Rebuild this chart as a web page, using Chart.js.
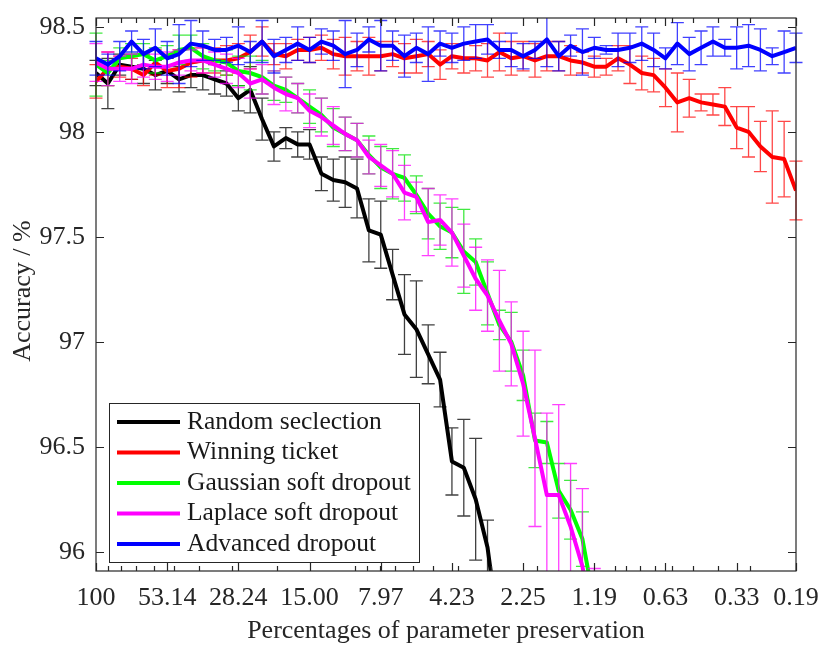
<!DOCTYPE html>
<html><head><meta charset="utf-8">
<script src="https://cdn.jsdelivr.net/npm/chart.js@4.4.1/dist/chart.umd.min.js"></script>
<style>html,body{margin:0;padding:0;background:#fff}canvas{display:block}</style>
</head><body>
<canvas id="c" width="830" height="654"></canvas>
<script>
// Percentage of preserved parameters (x categories, log axis, reversed)
const preservation = [100, 90, 81, 72.9, 65.61, 59.049, 53.144, 47.830, 43.047, 38.742,
  34.868, 31.381, 28.243, 25.419, 22.877, 20.589, 18.530, 16.677, 15.009, 13.509,
  12.158, 10.942, 9.8477, 8.8629, 7.9766, 7.1790, 6.4611, 5.8150, 5.2335, 4.7101,
  4.2391, 3.8152, 3.4337, 3.0903, 2.7813, 2.5032, 2.2528, 2.0276, 1.8248, 1.6423,
  1.4781, 1.3303, 1.1973, 1.0775, 0.96977, 0.87280, 0.78552, 0.70697, 0.63627, 0.57264,
  0.51538, 0.46384, 0.41746, 0.37571, 0.33814, 0.30433, 0.27389, 0.24650, 0.22185, 0.19967];

const xTickValues = [100, 53.144, 28.243, 15.009, 7.9766, 4.2391, 2.2528, 1.1973, 0.63627, 0.33814, 0.19967];
const xTickLabels = ["100", "53.14", "28.24", "15.00", "7.97", "4.23", "2.25", "1.19", "0.63", "0.33", "0.19"];
const xMinorTicks = [90, 80, 70, 60, 50, 40, 30, 20, 10, 9, 8, 7, 6, 5, 4, 3, 2, 1, 0.9, 0.8, 0.7, 0.6, 0.5, 0.4, 0.3];
const yTicks = [96, 96.5, 97, 97.5, 98, 98.5];

const seriesNames = ["Random seclection", "Winning ticket", "Gaussian soft dropout", "Laplace soft dropout", "Advanced dropout"];
const lineColors = ["#000000", "#ff0000", "#00ff00", "#ff00ff", "#0000ff"];
const errColors = ["rgba(0,0,0,0.75)", "rgba(255,0,0,0.72)", "rgba(0,225,0,0.75)", "rgba(255,0,255,0.75)", "rgba(0,0,255,0.75)"];

const randomSel = [98.28, 98.23, 98.32, 98.31, 98.30, 98.27, 98.29, 98.25, 98.27, 98.27,
  98.25, 98.23, 98.16, 98.20, 98.06, 97.93, 97.97, 97.94, 97.94, 97.80,
  97.77, 97.76, 97.73, 97.53, 97.51, 97.32, 97.13, 97.06, 96.94, 96.82,
  96.43, 96.40, 96.25, 96.02, 95.60];
const randomSelErr = [0.06, 0.12, 0.05, 0.06, 0.07, 0.07, 0.06, 0.06, 0.06, 0.07,
  0.07, 0.06, 0.06, 0.11, 0.10, 0.07, 0.05, 0.06, 0.07, 0.08,
  0.10, 0.12, 0.14, 0.15, 0.16, 0.12, 0.19, 0.23, 0.14, 0.13,
  0.16, 0.23, 0.29, 0.13, 0.15];

const winning = [98.24, 98.30, 98.31, 98.30, 98.27, 98.33, 98.29, 98.30, 98.33, 98.34,
  98.34, 98.34, 98.35, 98.38, 98.43, 98.37, 98.36, 98.39, 98.39, 98.40,
  98.37, 98.36, 98.36, 98.36, 98.36, 98.37, 98.35, 98.36, 98.37, 98.32,
  98.36, 98.35, 98.35, 98.34, 98.38, 98.35, 98.36, 98.34, 98.36, 98.36,
  98.34, 98.33, 98.31, 98.31, 98.35, 98.32, 98.28, 98.27, 98.21, 98.14,
  98.16, 98.14, 98.13, 98.12, 98.02, 98.00, 97.93, 97.88, 97.87, 97.72];
const winningErr = [0.08, 0.08, 0.05, 0.05, 0.05, 0.06, 0.08, 0.09, 0.07, 0.06,
  0.06, 0.07, 0.07, 0.08, 0.07, 0.05, 0.06, 0.05, 0.06, 0.06,
  0.07, 0.09, 0.07, 0.09, 0.07, 0.06, 0.07, 0.08, 0.06, 0.07,
  0.06, 0.07, 0.06, 0.08, 0.09, 0.08, 0.07, 0.08, 0.07, 0.07,
  0.07, 0.05, 0.05, 0.04, 0.06, 0.09, 0.08, 0.08, 0.09, 0.14,
  0.09, 0.04, 0.05, 0.09, 0.10, 0.12, 0.12, 0.22, 0.18, 0.14];

const gaussian = [98.32, 98.28, 98.35, 98.36, 98.37, 98.34, 98.36, 98.39, 98.40, 98.36,
  98.34, 98.33, 98.29, 98.28, 98.26, 98.22, 98.20, 98.16, 98.12, 98.08,
  98.02, 97.99, 97.96, 97.89, 97.83, 97.80, 97.78, 97.70, 97.61, 97.55,
  97.52, 97.43, 97.38, 97.23, 97.08, 97.00, 96.84, 96.53, 96.52, 96.29,
  96.20, 96.06, 95.75];
const gaussianErr = [0.15, 0.06, 0.05, 0.06, 0.05, 0.06, 0.05, 0.07, 0.06, 0.06,
  0.05, 0.06, 0.07, 0.08, 0.08, 0.07, 0.06, 0.07, 0.08, 0.08,
  0.09, 0.08, 0.08, 0.09, 0.10, 0.12, 0.11, 0.09, 0.12, 0.11,
  0.12, 0.20, 0.11, 0.15, 0.07, 0.14, 0.12, 0.13, 0.10, 0.13,
  0.14, 0.13, 0.12];

const laplace = [98.33, 98.30, 98.30, 98.30, 98.32, 98.31, 98.31, 98.33, 98.34, 98.34,
  98.32, 98.30, 98.28, 98.23, 98.25, 98.21, 98.18, 98.16, 98.10, 98.07,
  98.03, 97.99, 97.96, 97.88, 97.84, 97.80, 97.71, 97.69, 97.57, 97.58,
  97.52, 97.41, 97.30, 97.22, 97.10, 96.99, 96.80, 96.54, 96.27, 96.27,
  96.12, 95.93, 95.60];
const laplaceErr = [0.09, 0.08, 0.06, 0.07, 0.06, 0.06, 0.07, 0.06, 0.05, 0.06,
  0.06, 0.07, 0.07, 0.07, 0.07, 0.08, 0.08, 0.07, 0.08, 0.09,
  0.09, 0.08, 0.08, 0.08, 0.10, 0.11, 0.13, 0.07, 0.16, 0.12,
  0.16, 0.15, 0.15, 0.17, 0.24, 0.20, 0.25, 0.42, 0.39, 0.43,
  0.30, 0.37, 0.32];

const advanced = [98.35, 98.32, 98.36, 98.43, 98.37, 98.40, 98.35, 98.37, 98.42, 98.41,
  98.39, 98.39, 98.41, 98.38, 98.43, 98.36, 98.39, 98.42, 98.39, 98.43,
  98.41, 98.37, 98.39, 98.44, 98.41, 98.41, 98.36, 98.40, 98.37, 98.42,
  98.40, 98.42, 98.43, 98.44, 98.39, 98.39, 98.36, 98.39, 98.44, 98.36,
  98.41, 98.38, 98.40, 98.39, 98.39, 98.40, 98.42, 98.39, 98.35, 98.42,
  98.37, 98.40, 98.43, 98.40, 98.40, 98.41, 98.39, 98.36, 98.38, 98.40];
const advancedErr = [0.08, 0.05, 0.07, 0.05, 0.07, 0.09, 0.08, 0.14, 0.11, 0.07,
  0.05, 0.06, 0.09, 0.05, 0.10, 0.08, 0.06, 0.08, 0.06, 0.06,
  0.07, 0.16, 0.08, 0.06, 0.12, 0.07, 0.10, 0.07, 0.13, 0.06,
  0.07, 0.08, 0.08, 0.07, 0.04, 0.08, 0.06, 0.04, 0.13, 0.07,
  0.05, 0.11, 0.05, 0.02, 0.08, 0.07, 0.08, 0.08, 0.05, 0.10,
  0.08, 0.08, 0.07, 0.04, 0.10, 0.10, 0.10, 0.04, 0.10, 0.07];

const seriesValues = [randomSel, winning, gaussian, laplace, advanced];
const seriesErrors = [randomSelErr, winningErr, gaussianErr, laplaceErr, advancedErr];

const FONT = '"Liberation Serif", "Times New Roman", serif';
const TEXT = '#262626';

const errorBarPlugin = {
  id: 'errorBars',
  beforeDatasetDraw(chart, args) {
    const i = args.index;
    const errs = seriesErrors[i];
    const vals = seriesValues[i];
    const ys = chart.scales.y;
    const ca = chart.chartArea;
    const ctx = chart.ctx;
    ctx.save();
    ctx.beginPath();
    ctx.rect(ca.left - 12, ca.top, ca.right - ca.left + 24, ca.bottom - ca.top);
    ctx.clip();
    ctx.strokeStyle = errColors[i];
    ctx.lineWidth = 1.3;
    ctx.beginPath();
    args.meta.data.forEach((pt, k) => {
      const v = vals[k], e = errs[k];
      if (v == null || e == null) return;
      const x = pt.x;
      const y1 = ys.getPixelForValue(v + e);
      const y2 = ys.getPixelForValue(v - e);
      ctx.moveTo(x, y1); ctx.lineTo(x, y2);
      ctx.moveTo(x - 6.5, y1); ctx.lineTo(x + 6.5, y1);
      ctx.moveTo(x - 6.5, y2); ctx.lineTo(x + 6.5, y2);
    });
    ctx.stroke();
    ctx.restore();
  }
};

const framePlugin = {
  id: 'frame',
  afterDraw(chart) {
    const { ctx, chartArea: ca, scales: { x, y } } = chart;
    ctx.save();
    ctx.strokeStyle = TEXT;
    ctx.lineWidth = 1.2;
    ctx.strokeRect(ca.left, ca.top, ca.right - ca.left, ca.bottom - ca.top);
    ctx.beginPath();
    xTickValues.forEach(v => {
      const px = Math.round(x.getPixelForValue(v)) + 0.5;
      ctx.moveTo(px, ca.bottom); ctx.lineTo(px, ca.bottom - 8);
      ctx.moveTo(px, ca.top); ctx.lineTo(px, ca.top + 8);
    });
    xMinorTicks.forEach(v => {
      const px = Math.round(x.getPixelForValue(v)) + 0.5;
      ctx.moveTo(px, ca.bottom); ctx.lineTo(px, ca.bottom - 5);
      ctx.moveTo(px, ca.top); ctx.lineTo(px, ca.top + 5);
    });
    yTicks.forEach(v => {
      const py = Math.round(y.getPixelForValue(v)) + 0.5;
      ctx.moveTo(ca.left, py); ctx.lineTo(ca.left + 8, py);
      ctx.moveTo(ca.right, py); ctx.lineTo(ca.right - 8, py);
    });
    ctx.stroke();

    // axis titles
    ctx.fillStyle = TEXT;
    ctx.font = '26px ' + FONT;
    ctx.textAlign = 'center';
    ctx.textBaseline = 'alphabetic';
    ctx.fillText('Percentages of parameter preservation', (ca.left + ca.right) / 2, 638);
    ctx.save();
    ctx.translate(30, 291);
    ctx.rotate(-Math.PI / 2);
    ctx.fillText('Accuracy / %', 0, 0);
    ctx.restore();

    // legend
    const lx = ca.left + 13, ly = ca.bottom - 168, lw = 310, lh = 159;
    ctx.fillStyle = '#ffffff';
    ctx.fillRect(lx, ly, lw, lh);
    ctx.lineWidth = 1;
    ctx.strokeStyle = TEXT;
    ctx.strokeRect(lx + 0.5, ly + 0.5, lw, lh);
    ctx.font = '25.5px ' + FONT;
    ctx.textAlign = 'left';
    ctx.textBaseline = 'middle';
    seriesNames.forEach((name, k) => {
      const ry = ly + 19 + k * 30.5;
      ctx.strokeStyle = lineColors[k];
      ctx.lineWidth = 4;
      ctx.beginPath();
      ctx.moveTo(lx + 8, ry); ctx.lineTo(lx + 71, ry);
      ctx.stroke();
      ctx.fillStyle = '#1a1a1a';
      ctx.fillText(name, lx + 78, ry);
    });
    ctx.restore();
  }
};

const datasets = seriesValues.map((vals, k) => ({
  label: seriesNames[k],
  data: vals.map((v, i) => ({ x: preservation[i], y: v })),
  borderColor: lineColors[k],
  backgroundColor: lineColors[k],
  borderWidth: 4,
  pointRadius: 0,
  tension: 0,
  fill: false,
  clip: 0,
  borderJoinStyle: 'round',
  order: 5 - k
}));

new Chart(document.getElementById('c'), {
  type: 'line',
  data: { datasets },
  options: {
    responsive: false,
    animation: false,
    devicePixelRatio: 1,
    layout: { padding: { left: 0, right: 34, top: 18, bottom: 0 } },
    plugins: { legend: { display: false }, tooltip: { enabled: false } },
    scales: {
      x: {
        type: 'logarithmic',
        reverse: true,
        min: preservation[preservation.length - 1],
        max: preservation[0],
        grid: { display: false, drawTicks: false },
        border: { display: false },
        afterBuildTicks: s => { s.ticks = xTickValues.map(v => ({ value: v })); },
        afterFit: s => { s.height = 83; s.paddingLeft = 0; s.paddingRight = 0; },
        ticks: {
          autoSkip: false, maxRotation: 0, minRotation: 0, padding: 12,
          color: TEXT, font: { family: FONT, size: 26 },
          callback: v => { const k = xTickValues.indexOf(v); return k >= 0 ? xTickLabels[k] : ''; }
        }
      },
      y: {
        type: 'linear',
        min: 95.908,
        max: 98.542,
        grid: { display: false, drawTicks: false },
        border: { display: false },
        afterBuildTicks: s => { s.ticks = yTicks.map(v => ({ value: v })); },
        afterFit: s => { s.width = 96; s.paddingTop = 0; s.paddingBottom = 0; },
        ticks: {
          padding: 11, color: TEXT, font: { family: FONT, size: 26 },
          callback: v => String(v)
        }
      }
    }
  },
  plugins: [errorBarPlugin, framePlugin]
});
</script>
</body></html>
